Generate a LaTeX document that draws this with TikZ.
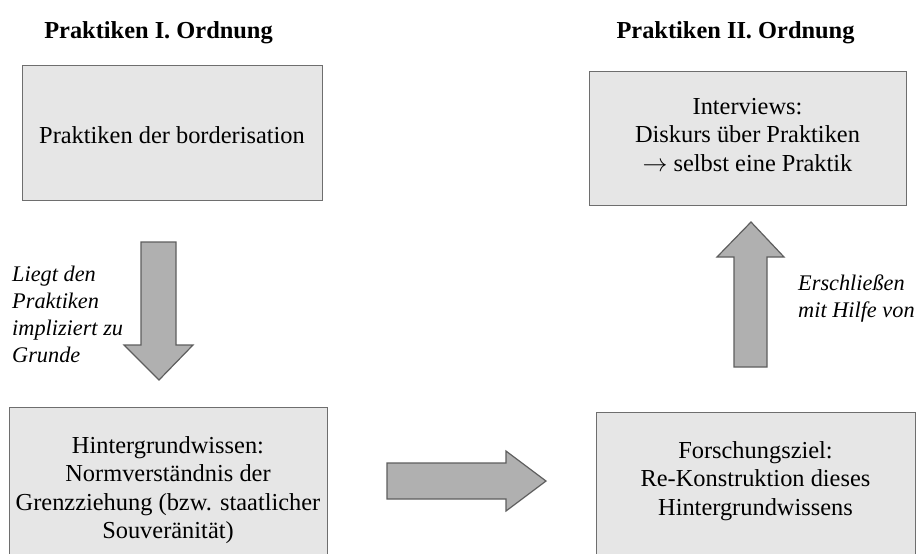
\documentclass[tikz,border=0pt]{standalone}
\usepackage{fontspec}
\setmainfont{Liberation Serif}
\definecolor{boxfill}{HTML}{E6E6E6}
\definecolor{boxline}{HTML}{6E6E6E}
\definecolor{arrfill}{HTML}{B0B0B0}
\definecolor{arrline}{HTML}{5E5E5E}
\tikzset{
  box/.style={draw=boxline, fill=boxfill, line width=1.2pt, inner sep=0pt, anchor=north west},
  txt/.style={align=center, inner sep=0pt, font=\fontsize{24.4}{28.5}\selectfont},
  ttl/.style={inner sep=0pt, font=\fontsize{24.4}{28}\selectfont\bfseries},
  lbl/.style={align=left, inner sep=0pt, font=\fontsize{22.3}{27}\selectfont\itshape},
  blockarrow/.style={draw=arrline, fill=arrfill, line width=1.2pt, line join=miter}
}
\begin{document}
\begin{tikzpicture}[x=1pt, y=-1pt]
\useasboundingbox (0,0) rectangle (918,554);
\clip (0,0) rectangle (918,554);
% titles
\node[ttl] (title1) at (158.5,33) {Praktiken I. Ordnung};
\node[ttl] (title2) at (735.5,33) {Praktiken II. Ordnung};
% boxes
\node[box, minimum width=300pt, minimum height=135pt] (b1) at (22,65) {};
\node[txt] (t1) at (172,135) {Praktiken der borderisation};
\node[box, minimum width=317pt, minimum height=134pt] (b2) at (589,71) {};
\node[txt] (t2) at (747.5,135) {Interviews:\\Diskurs über Praktiken\\$\rightarrow$ selbst eine Praktik};
\node[box, minimum width=318pt, minimum height=170pt] (b3) at (9,407) {};
\node[txt] (t3) at (168,490) {Hintergrundwissen:\\Normverständnis der\\Grenzziehung (bzw. staatlicher\\Souveränität)};
\node[box, minimum width=319pt, minimum height=170pt] (b4) at (596,412) {};
\node[txt] (t4) at (755.5,481) {Forschungsziel:\\Re-Konstruktion dieses\\Hintergrundwissens};
% down arrow
\draw[blockarrow] (141,242) -- (176,242) -- (176,345) -- (193,345) -- (159,380)
  -- (124,345) -- (141,345) -- cycle;
% right arrow
\draw[blockarrow] (387,463) -- (506,463) -- (506,451) -- (546,481) -- (506,511)
  -- (506,499) -- (387,499) -- cycle;
% up arrow
\draw[blockarrow] (734,367) -- (734,257) -- (717,257) -- (751,222) -- (784,257)
  -- (767,257) -- (767,367) -- cycle;
% labels
\node[lbl, anchor=west] (l1) at (12,314) {Liegt den\\Praktiken\\impliziert zu\\Grunde};
\node[lbl, anchor=west] (l2) at (798,299) {Erschließen\\mit Hilfe von};
\end{tikzpicture}
\end{document}
